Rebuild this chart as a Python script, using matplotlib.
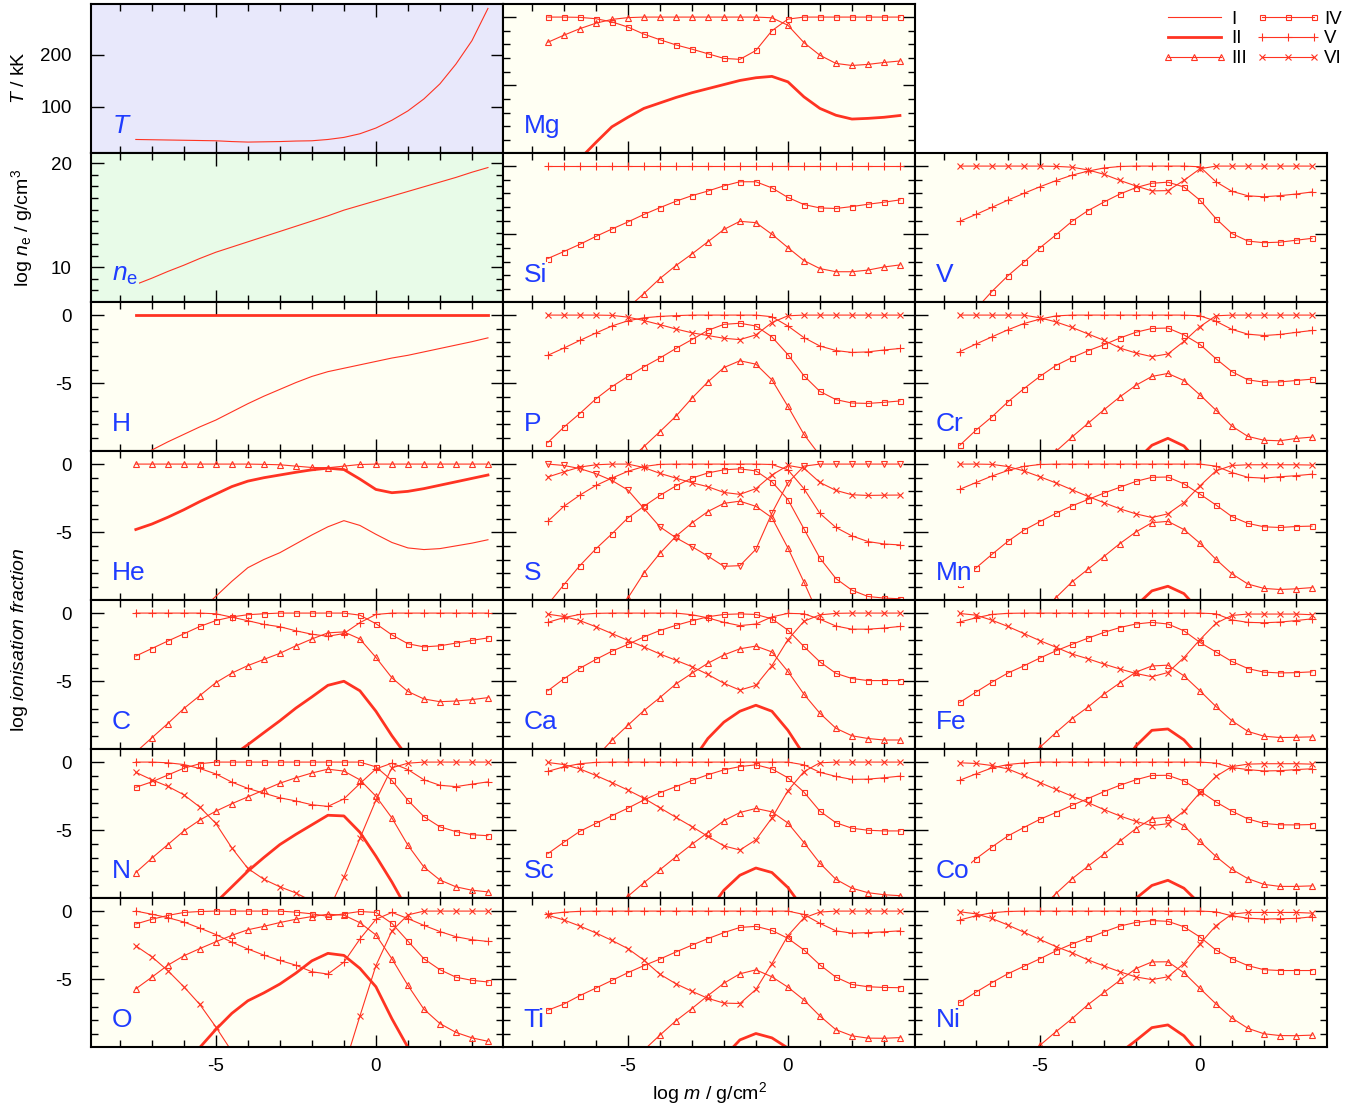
import matplotlib.pyplot as plt
from matplotlib.ticker import MultipleLocator
from matplotlib.lines import Line2D
import numpy as np

plt.rcParams['font.family'] = ['Liberation Sans', 'DejaVu Sans']
plt.rcParams['mathtext.fontset'] = 'custom'
plt.rcParams['mathtext.rm'] = 'Liberation Sans'
plt.rcParams['mathtext.it'] = 'Liberation Sans:italic'
plt.rcParams['axes.unicode_minus'] = False

N = None

# depth grid (log m / g cm^-2)
logm = [-7.5, -7, -6.5, -6, -5.5, -5, -4.5, -4, -3.5, -3, -2.5, -2, -1.5, -1,
        -0.5, 0, 0.5, 1, 1.5, 2, 2.5, 3, 3.5]

# temperature (kK) and electron density
T_kK = [37, 36.5, 36, 35.5, 35, 34.5, 33, 32, 32.5, 33, 34, 34.5, 37, 41, 48, 59,
        74, 92, 115, 144, 182, 227, 289]
log_ne = [8.35, 8.95, 9.6, 10.2, 10.85, 11.45, 11.95, 12.45, 12.95, 13.45, 13.95,
          14.45, 14.95, 15.5, 15.95, 16.4, 16.85, 17.3, 17.75, 18.2, 18.65, 19.15, 19.6]

# log ionisation fractions, one list per ion
H_I = [-10.45, -9.9, -9.3, -8.75, -8.2, -7.7, -7.1, -6.5, -5.95, -5.45, -4.95, -4.5,
       -4.15, -3.9, -3.65, -3.4, -3.15, -2.95, -2.7, -2.45, -2.2, -1.95, -1.67]
H_II = [0, 0, 0, 0, 0, 0, 0, 0, 0, 0, 0, 0, 0, 0, 0, 0, 0, 0, 0, 0, 0, 0, 0]

He_I = [N, N, N, N, -10.8, -9.7, -8.6, -7.6, -7.0, -6.5, -5.85, -5.2, -4.6, -4.15,
        -4.5, -5.15, -5.75, -6.15, -6.27, -6.2, -6.0, -5.8, -5.55]
He_II = [-4.8, -4.4, -3.9, -3.35, -2.75, -2.2, -1.65, -1.25, -1.0, -0.8, -0.6, -0.42,
         -0.3, -0.4, -1.1, -1.86, -2.1, -2.0, -1.8, -1.55, -1.3, -1.05, -0.8]
He_III = [0, 0, 0, 0, 0, 0, 0, 0, -0.02, -0.05, -0.15, -0.25, -0.27, -0.15, -0.03,
          0, 0, 0, 0, 0, 0, 0, 0]

C_II = [N, N, N, N, N, N, -10.5, -9.65, -8.77, -7.9, -6.97, -6.15, -5.3, -5.0, -5.7,
        -7.2, -9.0, -10.6, N, N, N, N, N]
C_III = [-10.2, -9.15, -8.1, -7.0, -6.05, -5.1, -4.4, -3.85, -3.4, -2.95, -2.4, -1.9,
         -1.45, -1.38, -1.9, -3.25, -4.75, -5.75, -6.3, -6.5, -6.45, -6.35, -6.2]
C_IV = [-3.15, -2.6, -2.05, -1.52, -0.98, -0.55, -0.28, -0.12, -0.05, 0, 0, 0, 0, 0,
        -0.15, -0.78, -1.6, -2.25, -2.48, -2.4, -2.2, -2.0, -1.82]
C_V = [0, 0, 0, 0, 0, -0.05, -0.3, -0.56, -0.83, -1.0, -1.3, -1.55, -1.7, -1.5, -0.7,
       -0.1, 0, 0, 0, 0, 0, 0, 0]

N_II = [N, N, N, N, N, -10.3, -9.15, -8.0, -7.0, -6.05, -5.3, -4.6, -3.9, -3.95,
        -5.15, -6.9, -8.8, -10.9, N, N, N, N, N]
N_III = [-8.1, -7.05, -6.05, -5.05, -4.25, -3.6, -3.05, -2.55, -2.05, -1.55, -1.15,
         -0.8, -0.52, -0.66, -1.3, -2.5, -4.1, -6.1, -7.7, -8.65, -9.15, -9.4, -9.52]
N_IV = [-1.85, -1.45, -0.95, -0.45, -0.12, 0, 0, 0, 0, 0, 0, 0, 0, 0, 0, -0.35,
        -1.35, -2.8, -4.0, -4.75, -5.1, -5.33, -5.4]
N_V = [0, 0, -0.05, -0.18, -0.47, -0.87, -1.47, -1.93, -2.28, -2.62, -2.85, -3.13,
       -3.25, -2.7, -1.58, -0.5, -0.08, -0.55, -1.3, -1.7, -1.8, -1.62, -1.45]
N_VI = [-0.75, -1.3, -1.78, -2.4, -3.3, -4.5, -6.3, -7.8, -8.6, -9.15, -9.6, -10.2,
        -10.8, N, N, N, N, N, N, N, N, N, N]
N_VII = [N, N, N, N, N, N, N, N, N, N, N, N, -11.0, -8.45, -5.6, -2.8, -0.42, -0.08,
         0, 0, 0, 0, 0]

O_II = [N, N, N, -11.4, -10.0, -8.68, -7.5, -6.58, -6.0, -5.35, -4.55, -3.65, -3.1,
        -3.25, -4.2, -5.55, -7.9, -10.0, -12.0, N, N, N, N]
O_III = [-5.7, -4.85, -3.97, -3.28, -2.75, -2.25, -1.78, -1.37, -1.12, -0.84, -0.6,
         -0.4, -0.23, -0.3, -0.85, -1.75, -3.5, -5.45, -7.2, -8.25, -8.9, -9.3, -9.55]
O_IV = [-0.95, -0.6, -0.32, -0.1, -0.03, 0, 0, 0, 0, 0, -0.08, -0.2, -0.38, -0.2,
        -0.03, -0.1, -0.9, -2.2, -3.5, -4.3, -4.85, -5.08, -5.2]
O_V = [0, -0.23, -0.48, -0.8, -1.25, -1.72, -2.28, -2.78, -3.23, -3.62, -3.97, -4.45,
       -4.62, -3.75, -2.05, -0.6, -0.1, -0.55, -1.05, -1.5, -1.88, -2.1, -2.23]
O_VI = [-2.55, -3.35, -4.37, -5.55, -6.85, -8.5, -10.3, -12.0, N, N, N, N, N, N, N,
        N, N, N, N, N, N, N, N]
O_VII = [N, N, N, N, N, N, N, N, N, N, N, N, N, -11.5, -7.7, -4.0, -1.45, -0.28, 0,
         0, 0, 0, 0]

Mg_II = [N, N, -10.4, -9.2, -8.05, -7.35, -6.7, -6.3, -5.9, -5.55, -5.25, -4.95,
         -4.65, -4.45, -4.35, -4.75, -5.85, -6.7, -7.2, -7.48, -7.43, -7.35, -7.22]
Mg_III = [-1.85, -1.33, -0.85, -0.45, -0.17, -0.04, 0, 0, 0, 0, 0, 0, 0, 0, -0.05,
          -0.6, -1.87, -2.8, -3.4, -3.55, -3.47, -3.33, -3.22]
Mg_IV = [0, 0, -0.02, -0.12, -0.35, -0.73, -1.25, -1.66, -2.04, -2.35, -2.69, -3.03,
         -3.1, -2.45, -1.0, -0.15, 0, 0, 0, 0, 0, 0, 0]

Si_III = [N, N, N, N, N, -10.4, -9.35, -8.25, -7.3, -6.45, -5.55, -4.65, -4.05,
          -4.15, -5.0, -5.98, -6.93, -7.52, -7.75, -7.75, -7.63, -7.4, -7.25]
Si_IV = [-6.78, -6.27, -5.74, -5.16, -4.62, -4.1, -3.55, -3.05, -2.58, -2.17, -1.83,
         -1.45, -1.15, -1.15, -1.6, -2.3, -2.82, -3.07, -3.11, -2.97, -2.8, -2.65, -2.48]
Si_V = [0, 0, 0, 0, 0, 0, 0, 0, 0, 0, 0, 0, 0, 0, 0, 0, 0, 0, 0, 0, 0, 0, 0]

P_III = [N, N, N, N, N, -10.7, -9.65, -8.55, -7.42, -6.1, -4.9, -3.85, -3.35, -3.6,
         -4.75, -6.7, -8.75, -10.3, -12.0, N, N, N, N]
P_IV = [-9.35, -8.22, -7.22, -6.15, -5.25, -4.5, -3.8, -3.15, -2.45, -1.8, -1.12,
        -0.68, -0.6, -0.8, -1.6, -2.9, -4.45, -5.6, -6.2, -6.45, -6.48, -6.4, -6.3]
P_V = [-2.95, -2.42, -1.86, -1.32, -0.8, -0.42, -0.2, -0.1, -0.04, 0, 0, 0, 0, 0,
       -0.12, -0.8, -1.65, -2.27, -2.6, -2.74, -2.7, -2.56, -2.45]
P_VI = [0, 0, 0, 0, -0.02, -0.15, -0.4, -0.7, -1.02, -1.3, -1.5, -1.7, -1.8, -1.45,
        -0.55, -0.05, 0, 0, 0, 0, 0, 0, 0]

S_III = [N, N, N, N, -11.7, -9.83, -8.0, -6.55, -5.3, -4.32, -3.48, -2.88, -2.72,
         -3.1, -3.93, -6.15, -8.65, -11.3, N, N, N, N, N]
S_IV = [-10.3, -8.85, -7.45, -6.22, -5.12, -3.95, -3.1, -2.3, -1.6, -1.03, -0.65,
        -0.42, -0.35, -0.5, -1.3, -2.6, -4.75, -6.9, -8.4, -9.25, -9.71, -9.83, -9.88]
S_V = [-4.2, -3.1, -2.28, -1.57, -1.03, -0.53, -0.18, -0.02, 0, 0, 0, 0, 0, 0, -0.03,
       -0.42, -1.8, -3.62, -4.65, -5.27, -5.68, -5.86, -5.93]
S_VI = [-0.95, -0.57, -0.22, -0.05, 0, 0, -0.25, -0.68, -1.03, -1.37, -1.66, -2.08,
        -2.22, -1.8, -0.8, -0.1, -0.3, -1.35, -1.93, -2.25, -2.3, -2.28, -2.27]
S_VII = [0, -0.1, -0.33, -0.7, -1.2, -1.9, -3.25, -4.6, -5.4, -6.05, -6.75, -7.5,
         -7.45, -6.25, -3.6, -1.37, -0.15, 0, 0, 0, 0, 0, 0]

Ca_II = [N, N, N, N, N, N, N, N, N, -10.9, -9.2, -8.0, -7.2, -6.76, -7.2, -8.6,
         -10.4, -12.5, N, N, N, N, N]
Ca_III = [N, N, N, -10.6, -9.33, -8.23, -7.15, -6.2, -5.2, -4.42, -3.68, -3.07,
          -2.62, -2.42, -2.85, -4.28, -5.95, -7.35, -8.45, -9.0, -9.2, -9.31, -9.31]
Ca_IV = [-5.7, -4.82, -4.05, -3.4, -2.8, -2.3, -1.75, -1.28, -0.9, -0.57, -0.27,
         -0.1, -0.06, -0.1, -0.42, -1.25, -2.45, -3.58, -4.42, -4.8, -4.95, -4.95, -4.95]
Ca_V = [-0.68, -0.33, -0.1, -0.02, 0, 0, 0, 0, 0, -0.12, -0.35, -0.68, -0.92, -0.8,
        -0.28, -0.02, -0.05, -0.45, -0.95, -1.18, -1.18, -1.1, -0.98]
Ca_VI = [-0.08, -0.25, -0.55, -1.0, -1.5, -2.0, -2.48, -3.0, -3.46, -3.93, -4.5,
         -5.15, -5.65, -5.3, -3.85, -1.95, -0.6, -0.13, -0.02, 0, 0, 0, 0]

Sc_II = [N, N, N, N, N, N, N, N, N, N, -11.0, -9.4, -8.3, -7.77, -8.1, -9.2, -10.8,
         -12.5, N, N, N, N, N]
Sc_III = [N, N, N, N, -11.0, -9.85, -8.85, -7.9, -6.95, -6.03, -5.17, -4.3, -3.7,
          -3.4, -3.65, -4.47, -5.9, -7.42, -8.6, -9.25, -9.58, -9.73, -9.8]
Sc_IV = [-6.72, -5.88, -5.08, -4.5, -3.94, -3.38, -2.78, -2.25, -1.8, -1.35, -0.93,
         -0.57, -0.33, -0.2, -0.5, -1.15, -2.2, -3.6, -4.45, -4.85, -5.0, -5.05, -5.05]
Sc_V = [-0.68, -0.35, -0.12, -0.02, 0, 0, 0, 0, 0, 0, 0, 0, 0, 0, 0, 0, -0.2, -0.75,
        -1.05, -1.27, -1.25, -1.15, -1.03]
Sc_VI = [-0.03, -0.18, -0.5, -0.98, -1.5, -2.05, -2.65, -3.35, -4.05, -4.73, -5.45,
         -6.15, -6.45, -5.7, -4.1, -2.1, -0.7, -0.05, 0, 0, 0, 0, 0]

Ti_II = [N, N, N, N, N, N, N, N, N, N, N, -10.7, -9.45, -8.98, -9.3, -10.05, -11.5,
         N, N, N, N, N, N]
Ti_III = [N, N, N, N, N, N, -10.2, -9.1, -8.05, -7.15, -6.2, -5.29, -4.6, -4.31,
          -4.82, -5.58, -6.52, -7.7, -8.7, -9.15, -9.32, -9.33, -9.28]
Ti_IV = [-7.27, -6.82, -6.2, -5.65, -5.09, -4.52, -4.0, -3.52, -3.0, -2.5, -2.02,
         -1.58, -1.2, -1.12, -1.42, -2.0, -2.85, -3.95, -4.85, -5.38, -5.55, -5.6, -5.62]
Ti_V = [-0.22, -0.08, -0.02, 0, 0, 0, 0, 0, 0, 0, 0, 0, 0, 0, 0, 0, -0.25, -0.9,
        -1.45, -1.62, -1.58, -1.52, -1.45]
Ti_VI = [-0.3, -0.65, -1.1, -1.6, -2.15, -2.75, -3.6, -4.63, -5.33, -5.88, -6.4,
         -6.75, -6.78, -5.75, -3.85, -1.8, -0.5, -0.07, 0, 0, 0, 0, 0]

V_IV = [-11.7, -10.5, -9.2, -8.05, -7.05, -6.0, -5.05, -4.06, -3.27, -2.64, -2.05,
        -1.58, -1.26, -1.18, -1.53, -2.5, -3.85, -4.95, -5.5, -5.62, -5.58, -5.44, -5.3]
V_V = [-4.05, -3.55, -3.03, -2.5, -2.0, -1.52, -1.07, -0.67, -0.37, -0.14, -0.03, 0,
       0, 0, 0, -0.05, -1.15, -1.85, -2.18, -2.25, -2.17, -2.05, -1.9]
V_VI = [0, 0, 0, 0, 0, 0, -0.02, -0.08, -0.28, -0.6, -1.05, -1.46, -1.82, -1.8,
        -1.05, -0.2, 0, 0, 0, 0, 0, 0, 0]

Cr_II = [N, N, N, N, N, N, N, N, N, N, N, -10.7, -9.55, -9.04, -9.6, -10.9, N, N, N,
         N, N, N, N]
Cr_III = [N, N, N, N, N, -11.1, -10.0, -8.95, -7.95, -6.95, -6.0, -5.15, -4.5, -4.28,
          -4.8, -5.85, -6.97, -8.15, -8.9, -9.18, -9.22, -9.05, -8.95]
Cr_IV = [-9.55, -8.45, -7.47, -6.37, -5.4, -4.5, -3.7, -3.12, -2.62, -2.18, -1.68,
         -1.26, -0.98, -0.95, -1.45, -2.15, -3.2, -4.15, -4.75, -4.92, -4.9, -4.8, -4.7]
Cr_V = [-2.68, -2.13, -1.6, -1.08, -0.62, -0.3, -0.06, 0, 0, 0, 0, 0, 0, 0, 0, -0.05,
        -0.45, -1.05, -1.4, -1.5, -1.42, -1.27, -1.13]
Cr_VI = [0, 0, 0, 0, 0, -0.2, -0.5, -0.9, -1.38, -1.85, -2.42, -2.78, -3.05, -2.85,
         -1.93, -0.85, -0.05, 0, 0, 0, 0, 0, 0]

Mn_II = [N, N, N, N, N, N, N, N, N, N, N, -10.4, -9.3, -8.96, -9.5, -10.8, N, N, N,
         N, N, N, N]
Mn_III = [N, N, N, N, N, -11.0, -9.8, -8.65, -7.72, -6.78, -5.83, -4.98, -4.3, -4.2,
          -4.8, -5.8, -6.98, -8.05, -8.8, -9.12, -9.2, -9.15, -9.06]
Mn_IV = [-8.8, -7.63, -6.63, -5.67, -4.85, -4.22, -3.62, -3.07, -2.6, -2.13, -1.7,
         -1.27, -0.97, -0.95, -1.45, -2.2, -3.0, -3.85, -4.35, -4.6, -4.65, -4.58, -4.55]
Mn_V = [-1.85, -1.36, -0.88, -0.47, -0.17, -0.03, 0, 0, 0, 0, 0, 0, 0, 0, 0, 0,
        -0.15, -0.62, -0.97, -1.03, -0.93, -0.85, -0.74]
Mn_VI = [0, 0, -0.02, -0.18, -0.5, -0.93, -1.38, -1.88, -2.37, -2.83, -3.28, -3.65,
         -3.92, -3.65, -2.82, -1.6, -0.5, -0.1, -0.05, -0.05, -0.05, -0.05, -0.07]

Fe_II = [N, N, N, N, N, N, N, N, N, N, -11.5, -9.75, -8.6, -8.5, -9.3, -10.6, N, N,
         N, N, N, N, N]
Fe_III = [N, N, N, N, -11.0, -9.85, -8.77, -7.75, -6.9, -5.95, -5.12, -4.33, -3.88,
          -3.82, -4.6, -5.7, -6.85, -7.9, -8.68, -9.03, -9.13, -9.11, -9.08]
Fe_IV = [-6.55, -5.8, -5.07, -4.4, -3.87, -3.3, -2.77, -2.3, -1.84, -1.42, -1.06,
         -0.8, -0.68, -0.8, -1.3, -2.15, -2.85, -3.55, -4.07, -4.33, -4.39, -4.37, -4.31]
Fe_V = [-0.65, -0.35, -0.1, -0.02, 0, 0, 0, 0, 0, 0, 0, 0, 0, 0, 0, 0, -0.05, -0.5,
        -0.68, -0.71, -0.66, -0.55, -0.42]
Fe_VI = [-0.03, -0.15, -0.52, -0.98, -1.5, -2.02, -2.5, -3.0, -3.35, -3.74, -4.1,
         -4.43, -4.67, -4.36, -3.27, -1.95, -0.75, -0.17, -0.07, -0.07, -0.07, -0.07,
         -0.12]

Co_II = [N, N, N, N, N, N, N, N, N, N, -11.3, -10.0, -9.05, -8.67, -9.25, -10.4, N,
         N, N, N, N, N, N]
Co_III = [N, N, N, N, N, -10.8, -9.65, -8.57, -7.65, -6.75, -5.8, -4.88, -4.15,
          -4.05, -4.68, -5.82, -6.92, -7.87, -8.55, -8.97, -9.12, -9.12, -9.08]
Co_IV = [-8.1, -7.1, -6.23, -5.42, -4.8, -4.2, -3.7, -3.18, -2.68, -2.17, -1.7, -1.3,
         -0.98, -0.97, -1.38, -2.12, -2.92, -3.6, -4.17, -4.5, -4.6, -4.61, -4.58]
Co_V = [-1.33, -0.87, -0.43, -0.18, -0.06, 0, 0, 0, 0, 0, 0, 0, 0, 0, 0, 0, -0.07,
        -0.4, -0.55, -0.65, -0.63, -0.55, -0.49]
Co_VI = [-0.05, -0.1, -0.25, -0.5, -0.98, -1.5, -2.0, -2.5, -2.97, -3.48, -3.95,
         -4.35, -4.66, -4.52, -3.6, -2.25, -1.05, -0.33, -0.15, -0.12, -0.12, -0.12,
         -0.15]

Ni_II = [N, N, N, N, N, N, N, N, N, N, -10.4, -9.5, -8.55, -8.35, -9.15, -10.5, N, N,
         N, N, N, N, N]
Ni_III = [N, N, N, N, -11.0, -9.85, -8.85, -7.9, -6.87, -5.97, -5.08, -4.22, -3.73,
          -3.72, -4.52, -5.67, -6.8, -7.85, -8.6, -9.0, -9.13, -9.14, -9.1]
Ni_IV = [-6.7, -5.95, -5.25, -4.6, -4.05, -3.5, -2.92, -2.42, -1.98, -1.53, -1.1,
         -0.83, -0.7, -0.75, -1.15, -1.9, -2.85, -3.5, -4.0, -4.3, -4.36, -4.36, -4.36]
Ni_V = [-0.65, -0.35, -0.12, -0.03, 0, 0, 0, 0, 0, 0, 0, 0, 0, 0, 0, 0, -0.05,
        -0.35, -0.52, -0.58, -0.56, -0.54, -0.42]
Ni_VI = [-0.05, -0.2, -0.54, -1.02, -1.55, -2.08, -2.6, -3.05, -3.58, -4.02, -4.45,
         -4.83, -5.03, -4.82, -3.85, -2.4, -1.07, -0.22, -0.1, -0.1, -0.1, -0.1, -0.15]

# (row, col, element, {stage: values}); 'VIIx' = seventh stage drawn with crosses
ion_panels = [
    (2, 0, 'H', {'I': H_I, 'II': H_II}),
    (3, 0, 'He', {'I': He_I, 'II': He_II, 'III': He_III}),
    (4, 0, 'C', {'II': C_II, 'III': C_III, 'IV': C_IV, 'V': C_V}),
    (5, 0, 'N', {'II': N_II, 'III': N_III, 'IV': N_IV, 'V': N_V, 'VI': N_VI, 'VIIx': N_VII}),
    (6, 0, 'O', {'II': O_II, 'III': O_III, 'IV': O_IV, 'V': O_V, 'VI': O_VI, 'VIIx': O_VII}),
    (0, 1, 'Mg', {'II': Mg_II, 'III': Mg_III, 'IV': Mg_IV}),
    (1, 1, 'Si', {'III': Si_III, 'IV': Si_IV, 'V': Si_V}),
    (2, 1, 'P', {'III': P_III, 'IV': P_IV, 'V': P_V, 'VI': P_VI}),
    (3, 1, 'S', {'III': S_III, 'IV': S_IV, 'V': S_V, 'VI': S_VI, 'VII': S_VII}),
    (4, 1, 'Ca', {'II': Ca_II, 'III': Ca_III, 'IV': Ca_IV, 'V': Ca_V, 'VI': Ca_VI}),
    (5, 1, 'Sc', {'II': Sc_II, 'III': Sc_III, 'IV': Sc_IV, 'V': Sc_V, 'VI': Sc_VI}),
    (6, 1, 'Ti', {'II': Ti_II, 'III': Ti_III, 'IV': Ti_IV, 'V': Ti_V, 'VI': Ti_VI}),
    (1, 2, 'V', {'IV': V_IV, 'V': V_V, 'VI': V_VI}),
    (2, 2, 'Cr', {'II': Cr_II, 'III': Cr_III, 'IV': Cr_IV, 'V': Cr_V, 'VI': Cr_VI}),
    (3, 2, 'Mn', {'II': Mn_II, 'III': Mn_III, 'IV': Mn_IV, 'V': Mn_V, 'VI': Mn_VI}),
    (4, 2, 'Fe', {'II': Fe_II, 'III': Fe_III, 'IV': Fe_IV, 'V': Fe_V, 'VI': Fe_VI}),
    (5, 2, 'Co', {'II': Co_II, 'III': Co_III, 'IV': Co_IV, 'V': Co_V, 'VI': Co_VI}),
    (6, 2, 'Ni', {'II': Ni_II, 'III': Ni_III, 'IV': Ni_IV, 'V': Ni_V, 'VI': Ni_VI}),
]

RED = '#ff3322'
BLUE = '#1f3cff'
CREAM = '#fffff3'
LAVENDER = '#e8e8fb'
MINT = '#e8fbe8'

style = {
    'I': dict(lw=0.8),
    'II': dict(lw=2.0),
    'III': dict(lw=0.8, marker='^', ms=4),
    'IV': dict(lw=0.8, marker='s', ms=3.6),
    'V': dict(lw=0.8, marker='+', ms=5.5),
    'VI': dict(lw=0.8, marker='x', ms=4),
    'VII': dict(lw=0.8, marker='v', ms=4),
    'VIIx': dict(lw=0.8, marker='x', ms=4),
}

W, H = 1345, 1110
fig = plt.figure(figsize=(W / 100, H / 100), dpi=100)


def make_axes(row, col, bg):
    left = 91 + 412 * col
    top = 4 + 149 * row
    ax = fig.add_axes([left / W, 1 - (top + 149) / H, 412 / W, 149 / H])
    ax.set_facecolor(bg)
    ax.set_xlim(-8.9, 3.97)
    ax.xaxis.set_major_locator(MultipleLocator(5))
    ax.xaxis.set_minor_locator(MultipleLocator(1))
    ax.tick_params(which='both', direction='in', top=True, right=True,
                   labelsize=13.5, width=1.0)
    ax.tick_params(which='major', length=9)
    ax.tick_params(which='minor', length=5)
    ax.tick_params(axis='y', pad=14)
    ax.tick_params(axis='x', pad=8)
    if row != 6:
        ax.tick_params(labelbottom=False)
    if col != 0:
        ax.tick_params(labelleft=False)
    for s in ax.spines.values():
        s.set_linewidth(1.5)
    return ax


def panel_label(ax, text, bg):
    ax.text(0.05, 0.1, text, transform=ax.transAxes, fontsize=19, color=BLUE,
            ha='left', va='bottom', zorder=10,
            bbox=dict(facecolor=bg, edgecolor='none', pad=1.0))


x = np.array(logm, dtype=float)

# temperature
ax = make_axes(0, 0, LAVENDER)
ax.plot(x, T_kK, color=RED, lw=0.8)
ax.set_ylim(11, 297.5)
ax.yaxis.set_major_locator(MultipleLocator(100))
ax.yaxis.set_minor_locator(plt.NullLocator())
panel_label(ax, r'$T$', LAVENDER)

# electron density
ax = make_axes(1, 0, MINT)
ax.plot(x, log_ne, color=RED, lw=0.8)
ax.set_ylim(6.66, 21.0)
ax.yaxis.set_major_locator(MultipleLocator(10))
ax.yaxis.set_minor_locator(MultipleLocator(10 / 9))
panel_label(ax, r'$n_{\rm e}$', MINT)

for row, col, elem, ions in ion_panels:
    ax = make_axes(row, col, CREAM)
    for stage, vals in ions.items():
        y = np.array(vals, dtype=float)
        ax.plot(x, y, color=RED, mfc='none', mec=RED, mew=0.8, **style[stage])
    ax.set_ylim(-9.97, 0.96)
    ax.yaxis.set_major_locator(MultipleLocator(5))
    ax.yaxis.set_minor_locator(MultipleLocator(1))
    panel_label(ax, elem, CREAM)

# legend in the empty top-right cell
handles = []
names = ['I', 'II', 'III', 'IV', 'V', 'VI']
for st in names:
    handles.append(Line2D([], [], color=RED, mfc='none', mec=RED, mew=0.8, **style[st]))
fig.legend(handles, names, loc='upper left', bbox_to_anchor=(1153 / W, 1 - 1 / H),
           ncol=2, frameon=False, fontsize=13.5, handlelength=3.4, handletextpad=0.25,
           columnspacing=0.5, labelspacing=0.15, borderpad=0, numpoints=3)

# axis titles
fig.text(20 / W, 1 - 78 / H, r'$T$ / kK', rotation=90, ha='center', va='center',
         fontsize=14)
fig.text(22 / W, 1 - 228 / H, r'log $n_{\rm e}$ / g/cm$^3$', rotation=90,
         ha='center', va='center', fontsize=14)
fig.text(20 / W, 1 - 640 / H, r'log $\it{ionisation\ fraction}$', rotation=90,
         ha='center', va='center', fontsize=14)
fig.text(710 / W, 1 - 1093 / H, r'log $m$ / g/cm$^2$', ha='center', va='center',
         fontsize=14)

fig.savefig('out.png', dpi=100)
